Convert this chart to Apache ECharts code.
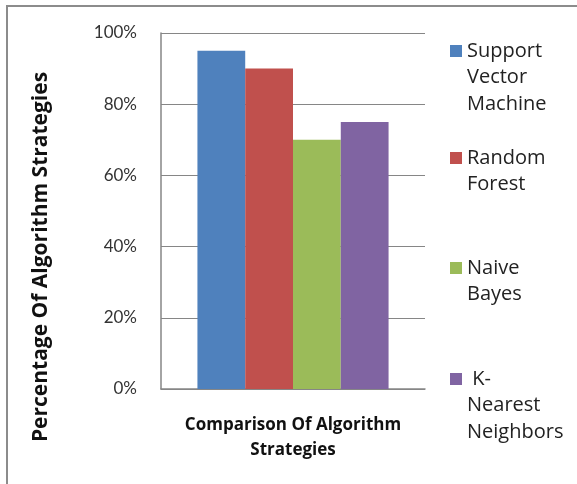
<!DOCTYPE html>
<html>
<head>
<meta charset="utf-8">
<script src="https://cdn.jsdelivr.net/npm/echarts@6/dist/echarts.min.js"></script>
<style>
  html, body { margin: 0; padding: 0; background: #fff; }
  #chart { width: 577px; height: 484px; }
</style>
</head>
<body>
<div id="chart"></div>
<script>
// data
const categories = ['Comparison Of Algorithm\nStrategies']
const seriesNames = ['Support Vector Machine', 'Random Forest', 'Naive Bayes', 'K-Nearest Neighbors']
const legendLabels = ['Support\nVector\nMachine', 'Random\nForest', 'Naive\nBayes', ' K-\nNearest\nNeighbors']
const values = [0.95, 0.90, 0.70, 0.75]
const yTicks = [0, 0.2, 0.4, 0.6, 0.8, 1.0]

const COLORS = ['#4F81BD', '#C0504D', '#9BBB59', '#8064A2']
const FONT = '"Open Sans", Lato, sans-serif'
const TICK_FONT = 'Lato, "Open Sans", sans-serif'
const LINE_H = 26.5
const MARK = 12
// y of the first text line of each legend entry
const legendFirstLine = [51, 158, 268, 379]

const chart = echarts.init(document.getElementById('chart'))

// legend text is centred on the icon, so the icon is a tall path whose
// visible square sits at the top, next to the first line of text
const legends = seriesNames.map((name, i) => {
  const lines = legendLabels[i].split('\n').length
  const k = 1 + ((lines - 1) * LINE_H / 2) / (MARK / 2)
  return {
    data: [name],
    left: 450,
    top: legendFirstLine[i] - LINE_H / 2,
    padding: 0,
    orient: 'vertical',
    itemWidth: MARK,
    itemHeight: MARK * k,
    icon: 'path://M0,0L1,0L1,1L0,1Z M0,' + k.toFixed(4),
    selectedMode: false,
    formatter: () => legendLabels[i],
    textStyle: {
      fontFamily: FONT,
      fontSize: 20,
      color: '#222',
      lineHeight: LINE_H,
    },
  }
})

chart.setOption({
  backgroundColor: '#fff',
  animation: false,
  graphic: [
    {
      type: 'rect',
      shape: { x: 7, y: 6, width: 700, height: 600 },
      style: { fill: 'none', stroke: '#8c8c8c', lineWidth: 2 },
      silent: true,
    },
  ],
  legend: legends,
  grid: { left: 161, right: 152, top: 33, bottom: 95 },
  xAxis: {
    type: 'category',
    data: categories,
    axisLine: { lineStyle: { color: '#868686', width: 1.5 } },
    axisTick: { show: false },
    axisLabel: {
      fontFamily: FONT,
      fontWeight: 'bold',
      fontSize: 17,
      color: '#111',
      lineHeight: 25,
      margin: 24,
    },
  },
  yAxis: {
    type: 'value',
    min: yTicks[0],
    max: yTicks[yTicks.length - 1],
    interval: 0.2,
    name: 'Percentage Of Algorithm Strategies',
    nameLocation: 'middle',
    nameRotate: 90,
    nameGap: 109,
    nameTextStyle: {
      fontFamily: FONT,
      fontWeight: 'bold',
      fontSize: 21,
      color: '#111',
      padding: [0, 92, 0, 0],
    },
    axisLine: { show: true, lineStyle: { color: '#868686', width: 1.5 } },
    axisTick: { show: false },
    splitLine: { lineStyle: { color: '#868686', width: 1.2 } },
    axisLabel: {
      fontFamily: TICK_FONT,
      fontSize: 17,
      color: '#333',
      margin: 24,
      formatter: (v) => Math.round(v * 100) + '%',
    },
  },
  series: seriesNames.map((name, i) => ({
    name,
    type: 'bar',
    data: [values[i]],
    barGap: 0,
    barCategoryGap: '27.6%',
    itemStyle: { color: COLORS[i] },
  })),
})
</script>
</body>
</html>
